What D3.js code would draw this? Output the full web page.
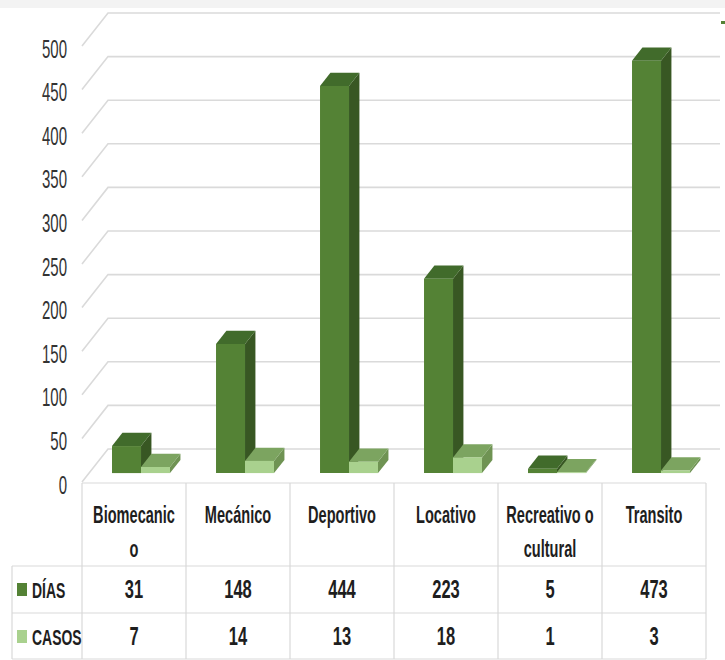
<!DOCTYPE html>
<html>
<head>
<meta charset="utf-8">
<script src="https://cdn.jsdelivr.net/npm/d3@7"></script>
<style>
  html, body { margin: 0; padding: 0; background: #ffffff; }
  svg { display: block; }
  text { font-family: "Liberation Sans", Arial, sans-serif; }
</style>
</head>
<body>
<svg id="chart" width="725" height="660"></svg>
<script>
// ---- data ----
const categories = ["Biomecanico", "Mecánico", "Deportivo", "Locativo", "Recreativo o cultural", "Transito"];
// how each category name wraps inside its table cell
const categoryLines = [["Biomecanic", "o"], ["Mecánico"], ["Deportivo"], ["Locativo"], ["Recreativo o", "cultural"], ["Transito"]];
const seriesNames = ["DÍAS", "CASOS"];
const dias  = [31, 148, 444, 223, 5, 473];
const casos = [7, 14, 13, 18, 1, 3];
const yTicks = [0, 50, 100, 150, 200, 250, 300, 350, 400, 450, 500];

// ---- layout ----
const W = 725, H = 660;
const plotLeft = 82, plotRight = 706;   // front edge of the floor = top of data table
const floorY = 482;                     // front plane, value 0
const depthDX = 26, depthDY = -33;      // full depth of the 3-D box
const barDepth0 = 0.27, barDepth1 = 0.67;
const gridRight = 720;

const svg = d3.select("#chart");

const colors = {
  "DÍAS":  { front: "#548235", side: "#385723", top: "#416b2b" },
  "CASOS": { front: "#a9d18e", side: "#6f9353", top: "#7ca460" }
};

// value scale on the front plane
const y = d3.scaleLinear().domain([0, 500]).range([floorY, floorY - 436]);
// category columns
const x = d3.scaleBand().domain(categories).range([plotLeft, plotRight]).paddingInner(0).paddingOuter(0);
// series within a column (front-plane coordinates, around column centre)
const barW = 29;
const xs = d3.scaleBand().domain(seriesNames).range([-barW, barW]).padding(0);

// project a front-plane point back by depth fraction t
const P = (px, py, t) => [px + depthDX * t, py + depthDY * t];

// background strip at top
svg.append("rect").attr("x", 0).attr("y", 0).attr("width", W).attr("height", H).attr("fill", "#ffffff");
svg.append("rect").attr("x", 0).attr("y", 0).attr("width", W).attr("height", 8).attr("fill", "#f3f3f3");

// ---- walls: gridlines ----
const grid = svg.append("g").attr("fill", "none").attr("stroke", "#dadada").attr("stroke-width", 1.6);
yTicks.forEach(v => {
  const f = [plotLeft, y(v)];
  const b = P(plotLeft, y(v), 1);
  grid.append("path").attr("d", d3.line()([f, b, [gridRight, b[1]]]));
});

// ---- y axis labels ----
const yAxisG = svg.append("g");
yTicks.forEach(v => {
  yAxisG.append("text")
    .attr("transform", `translate(67,${y(v) + 2.5}) scale(0.6,1)`)
    .attr("text-anchor", "end")
    .attr("dominant-baseline", "central")
    .attr("font-size", 25)
    .attr("fill", "#333333")
    .text(v);
});

// ---- 3-D columns ----
const bars = svg.append("g");
const seriesData = [dias, casos];
categories.forEach((cat, i) => {
  const cx = x(cat) + x.bandwidth() / 2;
  seriesNames.forEach((s, k) => {
    const v = seriesData[k][i];
    const x0 = cx + xs(s), x1 = x0 + xs.bandwidth();
    const yb = y(0), yt = y(v);
    const c = colors[s];
    const fl = P(x0, yt, barDepth0), fr = P(x1, yt, barDepth0);
    const frb = P(x1, yb, barDepth0), flb = P(x0, yb, barDepth0);
    const bl = P(x0, yt, barDepth1), br = P(x1, yt, barDepth1);
    const brb = P(x1, yb, barDepth1);
    // right side
    bars.append("path").attr("d", d3.line()([fr, br, brb, frb]) + "Z").attr("fill", c.side);
    // top
    bars.append("path").attr("d", d3.line()([fl, bl, br, fr]) + "Z").attr("fill", c.top);
    // front
    bars.append("path").attr("d", d3.line()([fl, fr, frb, flb]) + "Z").attr("fill", c.front);
  });
});

// tiny legend mark cut off at the right edge
svg.append("rect").attr("x", 721).attr("y", 21).attr("width", 4).attr("height", 3).attr("fill", "#548235");

// ---- data table ----
const tbl = svg.append("g");
const lineC = "#d9d9d9";
const rowTop = 483, rowHead = 566, rowMid = 613, rowBot = 659, tblLeft = 12;
const hl = (x1, x2, yy) => tbl.append("line").attr("x1", x1).attr("x2", x2).attr("y1", yy).attr("y2", yy)
  .attr("stroke", lineC).attr("stroke-width", 1.2);
const vl = (xx, y1, y2) => tbl.append("line").attr("x1", xx).attr("x2", xx).attr("y1", y1).attr("y2", y2)
  .attr("stroke", lineC).attr("stroke-width", 1.2);
hl(plotLeft, plotRight, rowTop);
hl(tblLeft, plotRight, rowHead);
hl(tblLeft, plotRight, rowMid);
hl(tblLeft, plotRight, rowBot);
vl(tblLeft, rowHead, rowBot);
categories.forEach(cat => vl(x(cat), rowTop, rowBot));
vl(plotRight, rowTop, rowBot);

const txt = (g, tx, ty, str, anchor, size, sx) => g.append("text")
  .attr("transform", `translate(${tx},${ty}) scale(${sx},1)`)
  .attr("text-anchor", anchor)
  .attr("font-size", size)
  .attr("font-weight", "bold")
  .attr("fill", "#1e1e1e")
  .text(str);

// header
categories.forEach((cat, i) => {
  const cx = x(cat) + x.bandwidth() / 2;
  categoryLines[i].forEach((ln, j) => txt(tbl, cx, 523 + j * 34, ln, "middle", 23.5, 0.62));
});

// series rows
const rowBase = [598, 645];
seriesNames.forEach((s, k) => {
  tbl.append("rect").attr("x", 17).attr("y", rowBase[k] - 15).attr("width", 10).attr("height", 13)
    .attr("fill", colors[s].front);
  txt(tbl, 32, rowBase[k], s, "start", 22.5, 0.62);
  categories.forEach((cat, i) => {
    const cx = x(cat) + x.bandwidth() / 2;
    txt(tbl, cx, rowBase[k], seriesData[k][i], "middle", 25, 0.66);
  });
});
</script>
</body>
</html>
